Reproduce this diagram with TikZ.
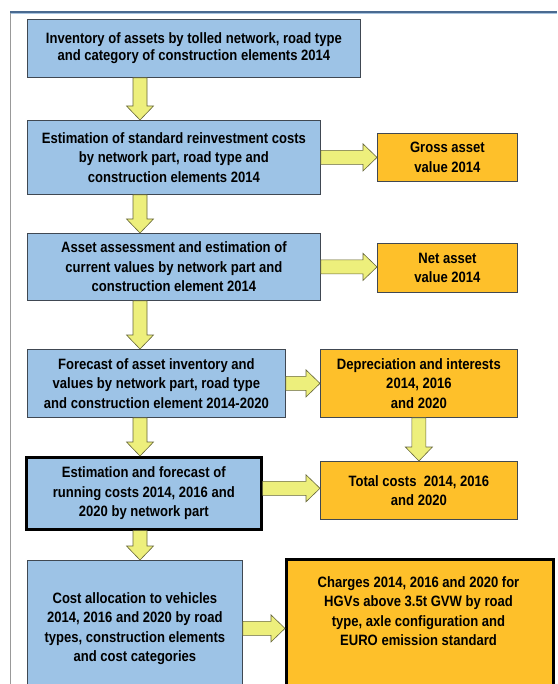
\documentclass[tikz,border=0pt]{standalone}
\usepackage{fontspec}
\setmainfont{Liberation Sans}[FakeStretch = 0.87]
\usetikzlibrary{calc}
\definecolor{taskblue}{RGB}{157,195,230}
\definecolor{resultgold}{RGB}{254,192,42}
\definecolor{flowyellow}{RGB}{237,239,124}
\definecolor{flowedge}{RGB}{102,102,58}
\definecolor{boxedge}{RGB}{64,72,82}
\definecolor{frameblue}{RGB}{74,106,144}
\definecolor{framelight}{RGB}{168,196,224}

\begin{document}
\begin{tikzpicture}[x = 1pt, y = -1pt,
    nodes = {align = center, font = \bfseries\fontsize{15}{19.5}\selectfont, text = black, inner sep = 0pt},
    task/.style = {draw = boxedge, fill = taskblue, line width = .8pt, anchor = north west},
    result/.style = {task, fill = resultgold},
    heavy/.style = {draw = black, line width = 2.6pt},
    flow/.style = {draw = flowedge, fill = flowyellow, line width = .6pt},
    flow down/.style = {flow, to path = {let \p1 = (\tikztostart), \p2 = (\tikztotarget) in
      (\x1-7pt,\y1) -- (\x1-7pt,\y2+14pt) -- (\x1-13.5pt,\y2+14pt) -- (\x1,\y2)
      -- (\x1+13.5pt,\y2+14pt) -- (\x1+7pt,\y2+14pt) -- (\x1+7pt,\y1) -- cycle}},
    flow right/.style = {flow, to path = {let \p1 = (\tikztostart), \p2 = (\tikztotarget) in
      (\x1,\y1+7pt) -- (\x2-14pt,\y1+7pt) -- (\x2-14pt,\y1+13.5pt) -- (\x2,\y1)
      -- (\x2-14pt,\y1-13.5pt) -- (\x2-14pt,\y1-7pt) -- (\x1,\y1-7pt) -- cycle}}]
 \useasboundingbox (0,0) rectangle (557,684);
 \clip (0,0) rectangle (557,684);
 \fill[white] (0,0) rectangle (557,684);
 \draw[framelight, line width = 1.2pt] (11,13.6) -- (557,13.6);
 \draw[black!40, line width = .8pt] (10,684) -- (10,12);
 \draw[frameblue, line width = 1.2pt] (10,12) -- (557,12);
 \coordinate (spine) at (140,0);

 \path node[task, minimum width = 333, minimum height = 58, font = \bfseries\fontsize{15}{17}\selectfont] (inventory) at (27,19)
   {Inventory of assets by tolled network, road type\\ and category of construction elements 2014}

 node[task, minimum width = 293, minimum height = 74] (reinvest) at (27,120)
   {Estimation of standard reinvestment costs\\ by network part, road type and\\ construction elements 2014}

 node[result, minimum width = 140, minimum height = 48] (gross) at (377,133) {Gross asset\\ value 2014}

 node[task, minimum width = 293, minimum height = 67] (assess) at (27,233)
   {Asset assessment and estimation of\\ current values by network part and\\ construction element 2014}

 node[result, minimum width = 140, minimum height = 49] (net) at (377,243) {Net asset\\ value 2014}

 node[task, minimum width = 258, minimum height = 68] (forecast) at (27,349)
   {Forecast of asset inventory and\\ values by network part, road type\\ and construction element 2014-2020}

 node[result, minimum width = 197, minimum height = 68] (deprec) at (320,349)
   {Depreciation and interests\\ 2014, 2016\\ and 2020}

 node[task, heavy, minimum width = 235, minimum height = 72] (running) at (25,456)
   {Estimation and forecast of\\ running costs 2014, 2016 and\\ 2020 by network part}

 node[result, minimum width = 197, minimum height = 58] (total) at (320,461) {Total costs\ \ 2014, 2016\\ and 2020}

 node[task, minimum width = 215, minimum height = 136] (alloc) at (27,560)
   {Cost allocation to vehicles\\ 2014, 2016 and 2020 by road\\ types, construction elements\\ and cost categories}

 node[result, heavy, minimum width = 267, minimum height = 160] (charges) at (285,558) {}

 node (chargestext) at (418.5,611)
   {Charges 2014, 2016 and 2020 for\\ HGVs above 3.5t GVW by road\\ type, axle configuration and\\ EURO emission standard};

 \draw[flow down] (inventory.south -| spine) to (reinvest.north -| spine);
 \draw[flow down] (reinvest.south -| spine) to (assess.north -| spine);
 \draw[flow down] (assess.south -| spine) to (forecast.north -| spine);
 \draw[flow down] (forecast.south -| spine) to (running.north -| spine);
 \draw[flow down] (running.south -| spine) to (alloc.north -| spine);
 \draw[flow down] (deprec.south) to (total.north);
 \draw[flow right] (reinvest.east) to (reinvest.east -| gross.west);
 \draw[flow right] (assess.east) to (assess.east -| net.west);
 \draw[flow right] (forecast.east) to (forecast.east -| deprec.west);
 \draw[flow right] ([yshift = 5pt]running.east) to ([yshift = 5pt]running.east -| total.west);
 \draw[flow right] (alloc.east) to (alloc.east -| charges.west);
\end{tikzpicture}
\end{document}
